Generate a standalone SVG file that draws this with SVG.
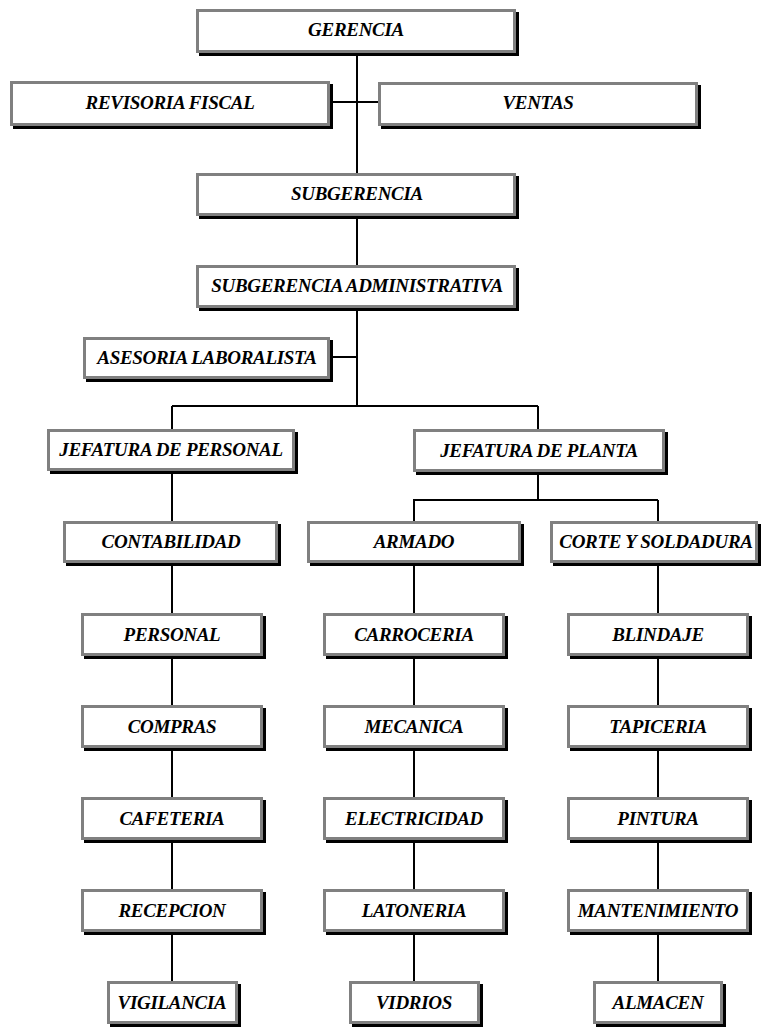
<svg xmlns="http://www.w3.org/2000/svg" width="761" height="1030" viewBox="0 0 761 1030">
<style>
.sh{fill:#000}
.bx{fill:#fff;stroke:#808080;stroke-width:3}
.t{font-family:"Liberation Serif","Times New Roman",serif;font-weight:bold;font-style:italic;font-size:19px;letter-spacing:-0.3px;fill:#000;text-anchor:middle}
.c{stroke:#000;stroke-width:2;fill:none}
</style>
<rect width="761" height="1030" fill="#fff"/>
<g id="connectors">
<path class="c" d="M357 53V173M330 102H378M357 216V265M357 308V406M330 357H357M172 406H538M172 406V429M538 406V429"/>
<path class="c" d="M172 471V521M172 563V613M172 656V705M172 748V797M172 840V889M172 932V981"/>
<path class="c" d="M538 472V500M413 500H658M414 500V521M658 500V521"/>
<path class="c" d="M414 563V613M414 656V705M414 748V797M414 840V889M414 932V981"/>
<path class="c" d="M658 563V613M658 656V705M658 748V797M658 840V889M658 932V981"/>
</g>
<g id="gerencia"><rect class="sh" x="199" y="12" width="320" height="44"/><rect class="bx" x="197.5" y="10.5" width="317" height="41"/><text class="t" x="356" y="36">GERENCIA</text></g>
<g id="revisoria"><rect class="sh" x="13" y="84" width="320" height="45"/><rect class="bx" x="11.5" y="82.5" width="317" height="42"/><text class="t" x="170" y="109">REVISORIA FISCAL</text></g>
<g id="ventas"><rect class="sh" x="381" y="85" width="320" height="44"/><rect class="bx" x="379.5" y="83.5" width="317" height="41"/><text class="t" x="538" y="109">VENTAS</text></g>
<g id="subgerencia"><rect class="sh" x="199" y="176" width="320" height="43"/><rect class="bx" x="197.5" y="174.5" width="317" height="40"/><text class="t" x="357" y="200">SUBGERENCIA</text></g>
<g id="subgerencia-adm"><rect class="sh" x="199" y="268" width="320" height="43"/><rect class="bx" x="197.5" y="266.5" width="317" height="40"/><text class="t" x="357" y="292">SUBGERENCIA ADMINISTRATIVA</text></g>
<g id="asesoria"><rect class="sh" x="86" y="340" width="247" height="42"/><rect class="bx" x="84.5" y="338.5" width="244" height="39"/><text class="t" x="207" y="364">ASESORIA LABORALISTA</text></g>
<g id="jef-personal"><rect class="sh" x="50" y="432" width="248" height="42"/><rect class="bx" x="48.5" y="430.5" width="245" height="39"/><text class="t" x="171" y="456">JEFATURA DE PERSONAL</text></g>
<g id="jef-planta"><rect class="sh" x="416" y="432" width="252" height="43"/><rect class="bx" x="414.5" y="430.5" width="249" height="40"/><text class="t" x="539" y="457">JEFATURA DE PLANTA</text></g>
<g id="contabilidad"><rect class="sh" x="66" y="524" width="215" height="42"/><rect class="bx" x="64.5" y="522.5" width="212" height="39"/><text class="t" x="171" y="548">CONTABILIDAD</text></g>
<g id="armado"><rect class="sh" x="310" y="524" width="214" height="42"/><rect class="bx" x="308.5" y="522.5" width="211" height="39"/><text class="t" x="414" y="548">ARMADO</text></g>
<g id="corte"><rect class="sh" x="553" y="524" width="208" height="42"/><rect class="bx" x="551.5" y="522.5" width="205" height="39"/><text class="t" x="656" y="548">CORTE Y SOLDADURA</text></g>
<g id="personal"><rect class="sh" x="84" y="616" width="182" height="43"/><rect class="bx" x="82.5" y="614.5" width="179" height="40"/><text class="t" x="172" y="641">PERSONAL</text></g>
<g id="carroceria"><rect class="sh" x="326" y="616" width="182" height="43"/><rect class="bx" x="324.5" y="614.5" width="179" height="40"/><text class="t" x="414" y="641">CARROCERIA</text></g>
<g id="blindaje"><rect class="sh" x="570" y="616" width="182" height="43"/><rect class="bx" x="568.5" y="614.5" width="179" height="40"/><text class="t" x="658" y="641">BLINDAJE</text></g>
<g id="compras"><rect class="sh" x="84" y="708" width="182" height="43"/><rect class="bx" x="82.5" y="706.5" width="179" height="40"/><text class="t" x="172" y="733">COMPRAS</text></g>
<g id="mecanica"><rect class="sh" x="326" y="708" width="182" height="43"/><rect class="bx" x="324.5" y="706.5" width="179" height="40"/><text class="t" x="414" y="733">MECANICA</text></g>
<g id="tapiceria"><rect class="sh" x="570" y="708" width="182" height="43"/><rect class="bx" x="568.5" y="706.5" width="179" height="40"/><text class="t" x="658" y="733">TAPICERIA</text></g>
<g id="cafeteria"><rect class="sh" x="84" y="800" width="182" height="43"/><rect class="bx" x="82.5" y="798.5" width="179" height="40"/><text class="t" x="172" y="825">CAFETERIA</text></g>
<g id="electricidad"><rect class="sh" x="326" y="800" width="182" height="43"/><rect class="bx" x="324.5" y="798.5" width="179" height="40"/><text class="t" x="414" y="825">ELECTRICIDAD</text></g>
<g id="pintura"><rect class="sh" x="570" y="800" width="182" height="43"/><rect class="bx" x="568.5" y="798.5" width="179" height="40"/><text class="t" x="658" y="825">PINTURA</text></g>
<g id="recepcion"><rect class="sh" x="84" y="892" width="182" height="43"/><rect class="bx" x="82.5" y="890.5" width="179" height="40"/><text class="t" x="172" y="917">RECEPCION</text></g>
<g id="latoneria"><rect class="sh" x="326" y="892" width="182" height="43"/><rect class="bx" x="324.5" y="890.5" width="179" height="40"/><text class="t" x="414" y="917">LATONERIA</text></g>
<g id="mantenimiento"><rect class="sh" x="570" y="892" width="182" height="43"/><rect class="bx" x="568.5" y="890.5" width="179" height="40"/><text class="t" x="658" y="917">MANTENIMIENTO</text></g>
<g id="vigilancia"><rect class="sh" x="110" y="984" width="131" height="43"/><rect class="bx" x="108.5" y="982.5" width="128" height="40"/><text class="t" x="172" y="1009">VIGILANCIA</text></g>
<g id="vidrios"><rect class="sh" x="352" y="984" width="131" height="43"/><rect class="bx" x="350.5" y="982.5" width="128" height="40"/><text class="t" x="414" y="1009">VIDRIOS</text></g>
<g id="almacen"><rect class="sh" x="596" y="984" width="130" height="43"/><rect class="bx" x="594.5" y="982.5" width="127" height="40"/><text class="t" x="658" y="1009">ALMACEN</text></g>
</svg>
